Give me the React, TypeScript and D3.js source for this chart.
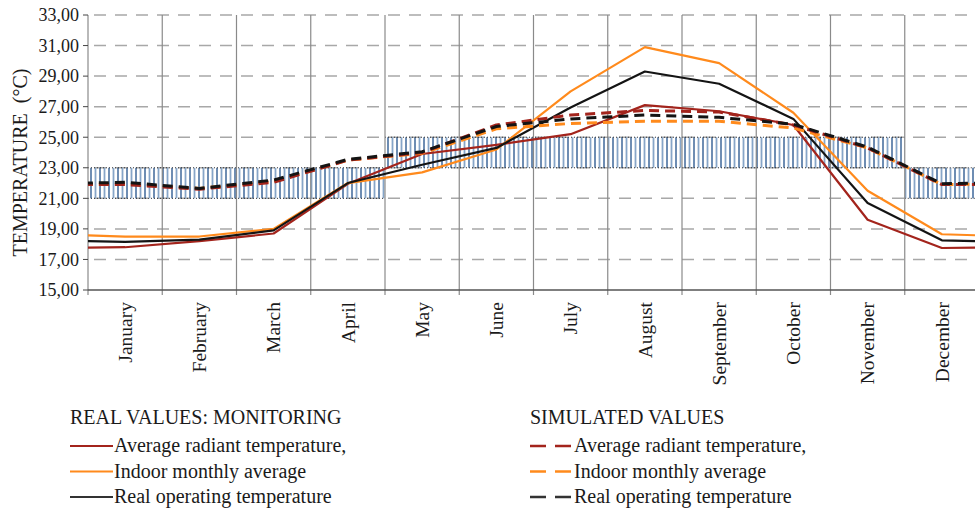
import * as d3 from 'd3';

// month categories
const months = ['January', 'February', 'March', 'April', 'May', 'June', 'July', 'August', 'September', 'October', 'November', 'December'];

// real values (monitoring)
const realRadiant = [17.8, 18.2, 18.7, 21.95, 23.9, 24.5, 25.2, 27.1, 26.7, 25.8, 19.6, 17.75];
const realIndoor = [18.5, 18.5, 19.0, 22.0, 22.7, 24.2, 28.0, 30.9, 29.85, 26.6, 21.5, 18.65];
const realOperative = [18.15, 18.3, 18.9, 22.0, 23.2, 24.3, 26.95, 29.3, 28.5, 26.2, 20.7, 18.25];

// simulated values
const simRadiant = [21.9, 21.6, 22.05, 23.5, 24.0, 25.8, 26.45, 26.75, 26.65, 25.8, 24.3, 21.9];
const simIndoor = [21.95, 21.65, 22.1, 23.5, 23.95, 25.55, 25.9, 26.05, 26.05, 25.6, 24.3, 21.9];
const simOperative = [22.05, 21.65, 22.2, 23.55, 24.05, 25.7, 26.2, 26.45, 26.3, 25.85, 24.35, 21.95];

// comfort band lower limit per month (band is 2 degrees wide)
const comfortLow = [21, 21, 21, 21, 23, 23, 23, 23, 23, 23, 23, 21];
const comfortWidth = 2;

const yTicks = [15, 17, 19, 21, 23, 25, 27, 29, 31, 33];

const legendReal = ['Average radiant temperature,', 'Indoor monthly average', 'Real operating temperature'];
const legendSim = ['Average radiant temperature,', 'Indoor monthly average', 'Real operating temperature'];

const RED = '#a3241c';
const ORANGE = '#ff8a1c';
const BLACK = '#141414';
const serif = { fontFamily: "'Liberation Serif', 'DejaVu Serif', serif" };

export default function App() {
  const width = 975;
  const height = 510;
  const left = 88;
  const right = 979;
  const top = 15;
  const bottom = 290;

  const x = d3.scaleBand<string>().domain(months).range([left, right]).padding(0);
  const bw = x.bandwidth();
  const y = d3.scaleLinear().domain([15, 33]).range([bottom, top]);
  const fmt = (v: number) => d3.format('.2f')(v).replace('.', ',');

  // centre of month i, allowing -1 and 12 to wrap around the year
  const cx = (i: number) => left + bw * (i + 0.5);

  const line = d3.line<[number, number]>().x(d => d[0]).y(d => y(d[1]));
  const pts = (vals: number[]): [number, number][] => [
    [cx(-1), vals[11]],
    ...vals.map((v, i) => [cx(i), v] as [number, number]),
    [cx(12), vals[0]],
  ];

  const realSeries = [
    { vals: realRadiant, color: RED },
    { vals: realIndoor, color: ORANGE },
    { vals: realOperative, color: BLACK },
  ];
  const simSeries = [
    { vals: simIndoor, color: ORANGE },
    { vals: simRadiant, color: RED },
    { vals: simOperative, color: BLACK },
  ];
  const legendColors = [RED, ORANGE, '#333'];

  // group consecutive months with equal comfort range into one block
  const blocks: { start: number; end: number; low: number }[] = [];
  comfortLow.forEach((lo, i) => {
    const last = blocks[blocks.length - 1];
    if (last && last.low === lo) last.end = i;
    else blocks.push({ start: i, end: i, low: lo });
  });

  return (
    <svg width={width} height={height} style={{ position: 'absolute', left: 0, top: 0, display: 'block', background: '#fff' }}>
      <defs>
        <pattern id="hatch" width={9} height={10} patternUnits="userSpaceOnUse">
          <line x1={1} y1={0} x2={1} y2={10} stroke="#1f4f8a" strokeWidth={1.3} />
          <line x1={5.5} y1={0} x2={5.5} y2={10} stroke="#86a5c8" strokeWidth={1.8} />
        </pattern>
        <clipPath id="plot">
          <rect x={left} y={0} width={right - left} height={bottom + 5} />
        </clipPath>
      </defs>

      {/* horizontal dashed grid */}
      {yTicks.filter(t => t > 15).map(t => (
        <line key={t} x1={left + 6} x2={width} y1={y(t)} y2={y(t)} stroke="#a8a8a8" strokeWidth={1.5} strokeDasharray="12,9" />
      ))}

      {/* comfort bands */}
      {blocks.map((b, i) => {
        const x0 = x(months[b.start])!;
        const x1 = x(months[b.end])! + bw;
        const y0 = y(b.low + comfortWidth);
        const y1 = y(b.low);
        return (
          <g key={i} clipPath="url(#plot)">
            <rect x={x0} y={y0} width={x1 - x0} height={y1 - y0} fill="url(#hatch)" />
            <line x1={x0} x2={x1} y1={y0} y2={y0} stroke="#333" strokeWidth={1} strokeDasharray="1,2" />
            <line x1={x0} x2={x1} y1={y1} y2={y1} stroke="#333" strokeWidth={1} strokeDasharray="1,2" />
          </g>
        );
      })}

      {/* vertical grid at category boundaries */}
      {months.map(m => (
        <line key={m} x1={x(m)!} x2={x(m)!} y1={top} y2={bottom + 5} stroke="#8a8a8a" strokeWidth={1.2} />
      ))}

      {/* axes */}
      <line x1={left} x2={width} y1={bottom} y2={bottom} stroke="#555" strokeWidth={1.5} />
      {yTicks.map(t => (
        <g key={t}>
          <line x1={left - 5} x2={left} y1={y(t)} y2={y(t)} stroke="#444" strokeWidth={1} />
          <text x={79} y={y(t)} dy="0.35em" textAnchor="end" style={serif} fontSize={18} fill="#1a1a1a">{fmt(t)}</text>
        </g>
      ))}
      <text transform={`translate(27,${(top + bottom) / 2 + 10}) rotate(-90)`} textAnchor="middle" style={{ ...serif, whiteSpace: 'pre' }} fontSize={20} fill="#1a1a1a">
        TEMPERATURE  (°C)
      </text>

      {/* month labels */}
      {months.map(m => (
        <text key={m} transform={`translate(${x(m)! + bw / 2},302) rotate(-90)`} dy="0.35em" textAnchor="end" style={serif} fontSize={19.5} fill="#1a1a1a">
          {m}
        </text>
      ))}

      {/* series */}
      <g clipPath="url(#plot)" fill="none" strokeLinejoin="round">
        {realSeries.map((s, i) => (
          <path key={'r' + i} d={line(pts(s.vals))!} stroke={s.color} strokeWidth={2.2} />
        ))}
        {simSeries.map((s, i) => (
          <path key={'s' + i} d={line(pts(s.vals))!} stroke={s.color} strokeWidth={3} strokeDasharray="10,6" />
        ))}
      </g>

      {/* legend */}
      <g style={serif} fontSize={20} fill="#1a1a1a">
        <text x={70} y={424}>REAL VALUES: MONITORING</text>
        {legendReal.map((t, i) => (
          <g key={t} transform={`translate(70,${446 + i * 25.5})`}>
            <line x1={0} x2={43} y1={0} y2={0} stroke={legendColors[i]} strokeWidth={2.2} />
            <text x={44} y={6}>{t}</text>
          </g>
        ))}
        <text x={530} y={424}>SIMULATED VALUES</text>
        {legendSim.map((t, i) => (
          <g key={t} transform={`translate(530,${446 + i * 25.5})`}>
            <line x1={0} x2={43} y1={0} y2={0} stroke={legendColors[i]} strokeWidth={2.5} strokeDasharray="16,9" />
            <text x={44} y={6}>{t}</text>
          </g>
        ))}
      </g>
    </svg>
  );
}
